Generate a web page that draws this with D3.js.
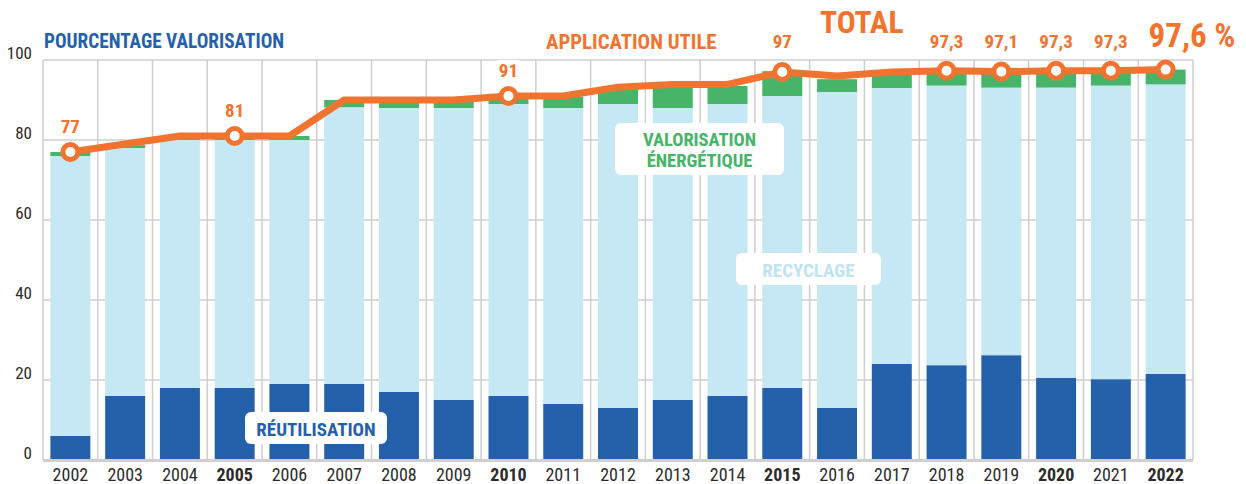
<!DOCTYPE html>
<html lang="fr">
<head>
<meta charset="utf-8">
<script src="https://cdn.jsdelivr.net/npm/d3@7/dist/d3.min.js"></script>
<style>
  html, body { margin: 0; padding: 0; background: #fff; }
  svg { display: block; }
  text { font-family: "Roboto Condensed", "Liberation Sans Narrow", "DejaVu Sans Condensed", "Roboto", sans-serif; font-stretch: condensed; }
</style>
</head>
<body>
<svg id="chart" width="1246" height="484"></svg>
<script>
// Années
const years = [2002, 2003, 2004, 2005, 2006, 2007, 2008, 2009, 2010, 2011, 2012,
               2013, 2014, 2015, 2016, 2017, 2018, 2019, 2020, 2021, 2022];
// Réutilisation (%)
const reutilisation = [6, 16, 18, 18, 19, 19, 17, 15, 16, 14, 13,
                       15, 16, 18, 13, 24, 23.7, 26.2, 20.5, 20.2, 21.5];
// Recyclage (%)
const recyclage = [70, 62, 62, 62, 61, 69.2, 71, 73, 73, 74, 76,
                   73, 73, 73, 79, 69, 69.9, 66.9, 72.6, 73.4, 72.4];
// Valorisation énergétique (%)
const energetique = [1, 0.7, 1, 1, 1, 1.8, 2, 2, 2, 2.8, 4,
                     5, 4.5, 6.2, 3.2, 4, 3.7, 4, 4.2, 3.7, 3.7];
// Application utile totale (%)
const total = [77, 79, 81, 81, 81, 90, 90, 90, 91, 91, 93.2,
               93.9, 93.9, 97, 96, 97, 97.3, 97.1, 97.3, 97.3, 97.6];
// Années marquées d'un point et d'une valeur
const markedYears = [2002, 2005, 2010, 2015, 2018, 2019, 2020, 2021, 2022];
// Années en gras sur l'axe
const boldYears = [2005, 2010, 2015, 2020, 2022];
const yTicks = [0, 20, 40, 60, 80, 100];

const C = {
  reu: "#2461aa",
  rec: "#c6e7f4",
  ener: "#47b46a",
  line: "#f07430",
  grid: "#cfcfcf",
  text: "#2b2b2b"
};

const svg = d3.select("#chart");

const x = d3.scaleBand().domain(years).range([43, 1193])
  .paddingInner(0.27).paddingOuter(0.135);
const y = d3.scaleLinear().domain([0, 100]).range([460, 60]);
const step = x.step();
const cx = yr => x(yr) + x.bandwidth() / 2;

// Grille
const grid = svg.append("g");
grid.selectAll("line.h").data(yTicks.filter(t => t > 0)).join("line")
  .attr("x1", 43).attr("x2", 1193)
  .attr("y1", d => y(d)).attr("y2", d => y(d))
  .attr("stroke", C.grid).attr("stroke-width", 1.5);
grid.selectAll("line.v").data(d3.range(years.length + 1)).join("line")
  .attr("x1", i => 43 + i * step).attr("x2", i => 43 + i * step)
  .attr("y1", y(100)).attr("y2", y(0))
  .attr("stroke", C.grid).attr("stroke-width", 1.5);

// Barres empilées
const rows = years.map((yr, i) => ({
  year: yr, reu: reutilisation[i], rec: recyclage[i], ener: energetique[i]
}));
const stack = d3.stack().keys(["reu", "rec", "ener"]);
const layers = stack(rows);
svg.append("g").selectAll("g").data(layers).join("g")
  .attr("fill", d => C[d.key])
  .selectAll("rect").data(d => d).join("rect")
  .attr("x", d => x(d.data.year))
  .attr("width", x.bandwidth())
  .attr("y", d => y(d[1]))
  .attr("height", d => y(d[0]) - y(d[1]));

// Ligne de base
svg.append("line")
  .attr("x1", 43).attr("x2", 1193).attr("y1", y(0) + 0.5).attr("y2", y(0) + 0.5)
  .attr("stroke", C.grid).attr("stroke-width", 3);

// Axe Y
const yAxis = svg.append("g").attr("transform", "translate(43,0)")
  .call(d3.axisLeft(y).tickValues(yTicks).tickSize(0).tickPadding(11));
yAxis.select(".domain").remove();
yAxis.selectAll("text")
  .attr("dy", "-0.08em")
  .style("font-size", "17px").style("font-family", null)
  .attr("fill", C.text);

// Axe X
const xAxis = svg.append("g").attr("transform", `translate(0,${y(0)})`)
  .call(d3.axisBottom(x).tickSize(0).tickPadding(8));
xAxis.select(".domain").remove();
xAxis.selectAll("text")
  .style("font-size", "18px").style("font-family", null)
  .style("font-weight", d => boldYears.includes(d) ? "bold" : "normal")
  .attr("fill", C.text);

// Ligne du total
svg.append("path")
  .datum(years.map((yr, i) => [cx(yr), y(total[i])]))
  .attr("d", d3.line())
  .attr("fill", "none")
  .attr("stroke", C.line)
  .attr("stroke-width", 7)
  .attr("stroke-linejoin", "round");

const fmt = v => String(v).replace(".", ",");
const marks = markedYears.map(yr => ({ year: yr, value: total[years.indexOf(yr)] }));

// Étiquettes de valeur : au-dessus du point, ou sur la ligne des titres quand le point est en haut
const labels = svg.append("g").attr("fill", C.line).style("font-weight", "bold");
marks.forEach(m => {
  const last = m.year === 2022;
  const above = y(m.value) - 19;
  const by = above < 58 ? 48 : above;
  if (m.year === 2010) {
    labels.append("rect")
      .attr("x", cx(m.year) - 13).attr("y", by - 17)
      .attr("width", 26).attr("height", 22).attr("rx", 4)
      .attr("fill", "#fff");
  }
  labels.append("text")
    .attr("x", last ? cx(m.year) - 17 : cx(m.year))
    .attr("y", last ? 47 : by)
    .attr("text-anchor", last ? "start" : "middle")
    .style("font-size", last ? "33px" : "19px")
    .text(fmt(m.value) + (last ? " %" : ""));
});

// Points
svg.append("g").selectAll("circle").data(marks).join("circle")
  .attr("cx", d => cx(d.year)).attr("cy", d => y(d.value))
  .attr("r", 7.5)
  .attr("fill", "#fff").attr("stroke", C.line).attr("stroke-width", 5);

// Titres
svg.append("text").attr("x", 44).attr("y", 48)
  .attr("fill", C.reu).style("font-weight", "bold").style("font-size", "19.3px")
  .text("POURCENTAGE VALORISATION");
svg.append("text").attr("x", 546).attr("y", 49)
  .attr("fill", C.line).style("font-weight", "bold").style("font-size", "20.8px")
  .text("APPLICATION UTILE");
svg.append("text").attr("x", 820).attr("y", 33)
  .attr("fill", C.line).style("font-weight", "bold").style("font-size", "31.5px")
  .text("TOTAL");

// Légendes dans le graphique
function tag(x0, y0, w, h, lines, color, baseline, lead, size) {
  const g = svg.append("g");
  g.append("rect").attr("x", x0).attr("y", y0).attr("width", w).attr("height", h)
    .attr("rx", 6).attr("fill", "#fff");
  lines.forEach((s, i) => {
    g.append("text").attr("x", x0 + w / 2).attr("y", baseline + i * lead)
      .attr("text-anchor", "middle").attr("fill", color)
      .style("font-weight", "bold").style("font-size", size + "px").text(s);
  });
}
tag(245, 412, 142, 32, ["RÉUTILISATION"], C.reu, 436, 0, 19);
tag(615, 123, 169, 52, ["VALORISATION", "ÉNERGÉTIQUE"], C.ener, 145.5, 21.5, 18.5);
tag(736, 253, 145, 32, ["RECYCLAGE"], "#bfe3f3", 277, 0, 19);
</script>
</body>
</html>
